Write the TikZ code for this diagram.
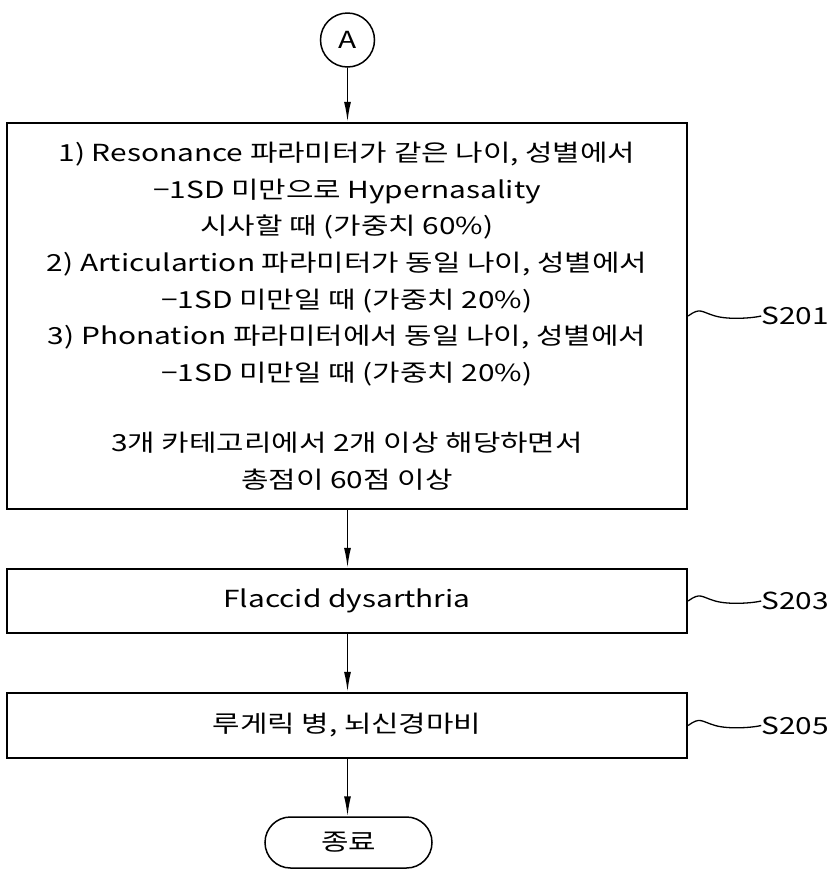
\documentclass[tikz,border=0pt]{standalone}
\usepackage{fontspec}
\setmainfont{Noto Sans CJK KR}[FakeStretch=1.27]
\usetikzlibrary{arrows.meta,shapes.misc}
\begin{document}
\begin{tikzpicture}[x=1pt,y=-1pt,
  every node/.style={font=\fontsize{23.5}{36.7}\selectfont},
  stepbox/.style={draw,line width=2.4pt,minimum width=680pt,inner sep=0pt,align=center},
  flow/.style={line width=1.5pt,-{Latex[length=20pt,width=7pt]}},
  squig/.style={line width=1.3pt},
  steplabel/.style={anchor=west,inner sep=0pt}]
\useasboundingbox (0,0) rectangle (828,871);

% connector start circle
\node[draw,circle,line width=1.5pt,minimum size=54pt,inner sep=0pt] (A) at (347.5,40) {A};

% decision criteria
\node[stepbox,minimum height=386pt] (s201) at (347,316)
  {1) Resonance 파라미터가 같은 나이, 성별에서\\
   −1SD 미만으로 Hypernasality\\
   시사할 때 (가중치 60\%)\\
   2) Articulartion 파라미터가 동일 나이, 성별에서\\
   −1SD 미만일 때 (가중치 20\%)\\
   3) Phonation 파라미터에서 동일 나이, 성별에서\\
   −1SD 미만일 때 (가중치 20\%)\\[33pt]
   3개 카테고리에서 2개 이상 해당하면서\\
   총점이 60점 이상};

\node[stepbox,minimum height=64pt] (s203) at (347,601) {Flaccid dysarthria};
\node[stepbox,minimum height=65pt] (s205) at (347,725.5) {루게릭 병, 뇌신경마비};

\node[draw,rounded rectangle,line width=1.5pt,minimum width=167pt,minimum height=51pt,inner sep=0pt] (end) at (348.5,842.5) {종료};

% flow arrows
\draw[flow] (A) -- (s201.north -| A);
\draw[flow] (s201.south -| A) -- (s203.north -| A);
\draw[flow] (s203.south -| A) -- (s205.north -| A);
\draw[flow] (s205.south -| A) -- (end.north -| A);

% step reference labels with leader squiggles
\foreach \n/\lab in {s201/S201,s203/S203,s205/S205}{
  \coordinate (\n-a) at (\n.east);
  \node[steplabel] (\n-l) at ([xshift=73pt]\n.east) {\lab};
  \draw[squig] (\n-a) .. controls +(12,-9) and +(-14,-4) .. ++(27,0)
                      .. controls +(14,4) and +(-8,2) .. (\n-l.west);
}
\end{tikzpicture}
\end{document}
